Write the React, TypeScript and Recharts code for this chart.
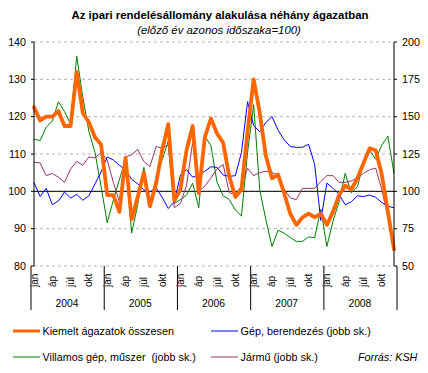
import React from 'react';
import { ComposedChart, Line, XAxis, YAxis, CartesianGrid, ReferenceLine } from 'recharts';

const years = ['2004', '2005', '2006', '2007', '2008'];
const months = ['jan', 'febr', 'márc', 'áp', 'máj', 'jún', 'júl', 'aug', 'szept', 'okt', 'nov', 'dec'];

// bal tengely
const kiemelt = [
  122.5, 119, 120, 120, 121.5, 117.5, 117.5, 132, 121, 118.5, 114.5, 112.5,
  99, 99, 94.5, 109, 92.5, 98.5, 105, 96, 102, 111, 118, 97.5,
  100.5, 111, 117.5, 99.5, 114.5, 119.5, 115.5, 113, 104, 98.5, 100.5, 116,
  130, 121, 109.5, 103.5, 104.5, 99.5, 94, 91, 93, 94, 93, 94,
  91, 94.5, 99, 101.5, 100.5, 103.5, 107.5, 111.5, 111, 104.5, 94.5, 84.5,
];

// jobb tengely
const gep = [
  106, 96.5, 102, 91, 93.5, 99.5, 95.5, 98, 94, 97, 105, 113,
  123, 121, 117.5, 114.5, 108, 105, 101, 99.5, 102.5, 96, 88.5, 93,
  111, 114.5, 109.5, 111, 113.5, 116.5, 116, 111, 110, 110.5, 126, 160,
  144, 140, 146, 150, 141, 134.5, 130, 129.5, 129.5, 131.5, 118, 80.5,
  105.5, 102, 98, 91, 93, 97, 96.5, 97.5, 96, 92.5, 90, 89,
];

const villamos = [
  135, 134, 143, 147, 160, 153.5, 145, 190.5, 163, 140, 126, 103,
  79, 94, 108, 121, 72, 91, 116, 92, 109, 121, 133.5, 92,
  94.5, 97.5, 105.5, 89, 137, 130.5, 106, 97, 94.5, 87.5, 83.5, 126,
  158, 101, 81, 63, 74, 72, 69, 66.5, 66.5, 69.5, 69, 88,
  63, 80, 93, 112, 99, 103, 119, 127.5, 121.5, 131, 137, 112,
];

const jarmu = [
  119.5, 119, 110.5, 112, 109.5, 106, 115, 120, 117.5, 123, 122.5, 126,
  121, 106, 93, 123, 124.5, 128, 120, 116.5, 130, 129, 131, 89,
  92, 104, 133, 100, 103.5, 109, 115, 118, 99, 98, 103.5, 115.5,
  110.5, 112.5, 113.5, 112.5, 111, 101.5, 95.5, 94.5, 102, 102, 102, 106.5,
  110.5, 110.5, 106, 106, 107, 109, 112, 114.5, 115.5, 101, 83, 67,
];

const leftTicks = [80, 90, 100, 110, 120, 130, 140];
const rightTicks = [50, 75, 100, 125, 150, 175, 200];

const data = years.flatMap((y, yi) =>
  months.map((m, mi) => {
    const i = yi * 12 + mi;
    return {
      key: `${y}-${m}`,
      month: m,
      year: y,
      kiemelt: kiemelt[i],
      gep: gep[i],
      villamos: villamos[i],
      jarmu: jarmu[i],
    };
  })
);

const FONT = "'Liberation Sans', Arial, sans-serif";
const W = 428;
const H = 373;
const PLOT_BOTTOM = 266;
const HALF_BAND = 3;

function MonthTick(props: any) {
  const { x, payload, index } = props;
  const i = payload?.index ?? index;
  const row = data[i];
  if (!row) return null;
  const mi = i % 12;
  return (
    <g>
      {mi % 3 === 0 && (
        <text
          x={x + 3.5}
          y={287}
          transform={`rotate(-90 ${x + 3.5} 287)`}
          fontSize={10}
          fontFamily={FONT}
          fill="#000"
          textAnchor="start"
        >
          {row.month}
        </text>
      )}
      {mi === 0 && (
        <>
          <line x1={x - HALF_BAND} x2={x - HALF_BAND} y1={PLOT_BOTTOM} y2={310} stroke="#000" strokeWidth={1} />
          <text x={x - HALF_BAND + 36} y={307} fontSize={10.3} fontFamily={FONT} fill="#000" textAnchor="middle">
            {row.year}
          </text>
        </>
      )}
      {i === data.length - 1 && (
        <line x1={x + HALF_BAND} x2={x + HALF_BAND} y1={PLOT_BOTTOM} y2={310} stroke="#000" strokeWidth={1} />
      )}
    </g>
  );
}

const legendItems = [
  { label: 'Kiemelt ágazatok összesen', color: '#FF6600', width: 3, x: 13, y: 331 },
  { label: 'Gép, berendezés (jobb sk.)', color: '#0000FF', width: 1, x: 211, y: 331 },
  { label: 'Villamos gép, műszer  (jobb sk.)', color: '#008000', width: 1, x: 13, y: 357 },
  { label: 'Jármű (jobb sk.)', color: '#993366', width: 1, x: 211, y: 357 },
];

export default function App() {
  const tickStyle = { fontSize: 10.7, fontFamily: FONT, fill: '#000' };
  return (
    <div style={{ position: 'absolute', left: 0, top: 0, width: W, height: H, background: '#fff' }}>
      <ComposedChart width={W} height={H} data={data} margin={{ top: 42, right: 0, bottom: 63, left: 0 }}>
        <CartesianGrid yAxisId="left" vertical={false} stroke="#b4b4b4" strokeDasharray="3 3" />
        <XAxis
          dataKey="key"
          interval={0}
          height={44}
          axisLine={false}
          tickLine={false}
          tick={<MonthTick />}
        />
        <YAxis
          yAxisId="left"
          domain={[80, 140]}
          ticks={leftTicks}
          width={34}
          allowDataOverflow
          axisLine={{ stroke: '#000' }}
          tickLine={{ stroke: '#000' }}
          tickSize={3}
          tickMargin={5}
          tick={tickStyle}
        />
        <YAxis
          yAxisId="right"
          orientation="right"
          domain={[50, 200]}
          ticks={rightTicks}
          width={34}
          allowDataOverflow
          axisLine={{ stroke: '#000' }}
          tickLine={{ stroke: '#000' }}
          tickSize={3}
          tickMargin={5}
          tick={tickStyle}
        />
        <ReferenceLine yAxisId="left" y={100} stroke="#000" strokeWidth={1} />
        <Line yAxisId="right" dataKey="villamos" stroke="#008000" strokeWidth={1} dot={false} isAnimationActive={false} type="linear" />
        <Line yAxisId="right" dataKey="jarmu" stroke="#993366" strokeWidth={1} dot={false} isAnimationActive={false} type="linear" />
        <Line yAxisId="right" dataKey="gep" stroke="#0000FF" strokeWidth={1} dot={false} isAnimationActive={false} type="linear" />
        <Line
          yAxisId="left"
          dataKey="kiemelt"
          stroke="#FF6600"
          strokeWidth={3.8}
          strokeLinejoin="round"
          strokeLinecap="round"
          dot={false}
          isAnimationActive={false}
          type="linear"
        />
      </ComposedChart>
      <svg width={W} height={H} style={{ position: 'absolute', left: 0, top: 0, pointerEvents: 'none' }}>
        <text x={220} y={19} textAnchor="middle" fontFamily={FONT} fontWeight="bold" fontSize={11.4} fill="#000">
          Az ipari rendelésállomány alakulása néhány ágazatban
        </text>
        <text x={219} y={33.5} textAnchor="middle" fontFamily={FONT} fontStyle="italic" fontSize={11.4} fill="#000">
          (előző év azonos időszaka=100)
        </text>
        {legendItems.map((it) => (
          <g key={it.label}>
            <line x1={it.x} x2={it.x + 27} y1={it.y} y2={it.y} stroke={it.color} strokeWidth={it.width} />
            <text x={it.x + 29.5} y={it.y + 3.8} fontFamily={FONT} fontSize={10.8} fill="#000" style={{ whiteSpace: 'pre' }}>
              {it.label}
            </text>
          </g>
        ))}
        <text x={358} y={361} fontFamily={FONT} fontStyle="italic" fontSize={10.8} fill="#000">
          Forrás: KSH
        </text>
      </svg>
    </div>
  );
}
